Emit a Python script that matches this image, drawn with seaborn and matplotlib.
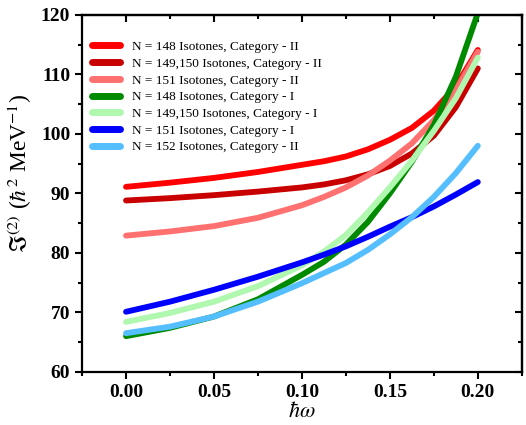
import numpy as np
import pandas as pd
import matplotlib
matplotlib.use("Agg")
import matplotlib.pyplot as plt
from matplotlib.ticker import MultipleLocator
import seaborn as sns

x = [0.0, 0.025, 0.05, 0.075, 0.10, 0.1125, 0.125, 0.1375, 0.15, 0.1625, 0.175, 0.1875, 0.20]
n148_cat2 = [91.1, 91.8, 92.6, 93.6, 94.8, 95.4, 96.2, 97.4, 99.0, 101.0, 103.9, 108.0, 114.1]
n149_cat2 = [88.8, 89.2, 89.7, 90.3, 91.0, 91.5, 92.2, 93.2, 94.6, 96.7, 99.7, 104.5, 111.0]
n151_cat2 = [82.9, 83.6, 84.5, 85.9, 88.0, 89.4, 91.0, 93.0, 95.5, 98.4, 102.3, 107.4, 113.8]
n148_cat1 = [66.0, 67.4, 69.3, 72.2, 76.3, 78.5, 81.4, 85.2, 90.0, 95.3, 101.5, 109.6, 120.3]
n149_cat1 = [68.4, 69.9, 71.8, 74.4, 77.9, 80.2, 83.0, 86.8, 91.0, 95.5, 100.5, 106.0, 112.8]
n151_cat1 = [70.1, 71.8, 73.8, 76.0, 78.4, 79.7, 81.1, 82.7, 84.4, 86.0, 87.8, 89.8, 91.9]
n152_cat2 = [66.5, 67.6, 69.3, 71.8, 74.9, 76.6, 78.3, 80.5, 83.1, 86.0, 89.4, 93.4, 98.0]

labels = ["N = 148 Isotones, Category - II",
          "N = 149,150 Isotones, Category - II",
          "N = 151 Isotones, Category - II",
          "N = 148 Isotones, Category - I",
          "N = 149,150 Isotones, Category - I",
          "N = 151 Isotones, Category - I",
          "N = 152 Isotones, Category - II"]
series = [n148_cat2, n149_cat2, n151_cat2, n148_cat1, n149_cat1, n151_cat1, n152_cat2]
colors = ["#FF0000", "#C80000", "#FF7070", "#008A00", "#B0F7B0", "#0000FF", "#55BEFF"]

df = pd.DataFrame({
    "x": np.tile(x, len(series)),
    "y": np.concatenate(series),
    "series": np.repeat(labels, len(x)),
})

sns.set_style("ticks")
plt.rcParams["font.family"] = ["Liberation Serif", "DejaVu Serif"]
plt.rcParams["mathtext.fontset"] = "stix"

fig = plt.figure(figsize=(5.26, 4.25), dpi=100)
ax = fig.add_axes([0.156, 0.125, 0.836, 0.84])

sns.lineplot(data=df, x="x", y="y", hue="series", hue_order=labels,
             palette=dict(zip(labels, colors)), linewidth=4.2, ax=ax,
             legend=True, solid_capstyle="round", solid_joinstyle="round")

ax.set_xlim(-0.025, 0.225)
ax.set_ylim(60, 120)
ax.xaxis.set_minor_locator(MultipleLocator(0.025))
ax.yaxis.set_major_locator(MultipleLocator(10))
ax.yaxis.set_minor_locator(MultipleLocator(5))
ax.set_xticks([0.0, 0.05, 0.10, 0.15, 0.20])
ax.set_xticklabels(["0.00", "0.05", "0.10", "0.15", "0.20"])

for s in ax.spines.values():
    s.set_linewidth(1.6)
    s.set_color("black")
    s.set_visible(True)

ax.tick_params(which="both", direction="out", width=1.5, labelsize=14,
               color="black", labelcolor="black")
ax.tick_params(which="major", length=5)
ax.tick_params(which="minor", length=3)
for lab in ax.get_xticklabels() + ax.get_yticklabels():
    lab.set_fontweight("bold")

# mirrored inward ticks on top and right
sec_x = ax.secondary_xaxis("top")
sec_x.set_xticks([0.0, 0.05, 0.10, 0.15, 0.20])
sec_x.xaxis.set_minor_locator(MultipleLocator(0.025))
sec_x.tick_params(which="both", direction="in", labeltop=False, width=1.5, color="black")
sec_x.tick_params(which="major", length=5)
sec_x.tick_params(which="minor", length=3)
sec_x.spines["top"].set_linewidth(1.6)
sec_x.spines["top"].set_color("black")
sec_y = ax.secondary_yaxis("right")
sec_y.yaxis.set_major_locator(MultipleLocator(10))
sec_y.yaxis.set_minor_locator(MultipleLocator(5))
sec_y.tick_params(which="both", direction="in", labelright=False, width=1.5, color="black")
sec_y.tick_params(which="major", length=5)
sec_y.tick_params(which="minor", length=3)
sec_y.spines["right"].set_linewidth(1.6)
sec_y.spines["right"].set_color("black")

ax.set_xlabel(r"$\hbar\omega$", fontsize=16, labelpad=1, color="black")
ax.set_ylabel(r"$\Im^{(2)}$ ($\hbar^{2}$ MeV$^{-1}$)", fontsize=16.8, color="black")
ax.yaxis.set_label_coords(-0.11, 0.555)

leg = ax.legend(loc="upper left", bbox_to_anchor=(0.0, 0.955), frameon=False,
                fontsize=9.5, handlelength=2.1, handletextpad=0.9,
                labelspacing=0.34, borderaxespad=0.35)
for line in leg.get_lines():
    line.set_linewidth(5)
for t in leg.get_texts():
    t.set_color("black")

fig.savefig("out.png", dpi=100)
